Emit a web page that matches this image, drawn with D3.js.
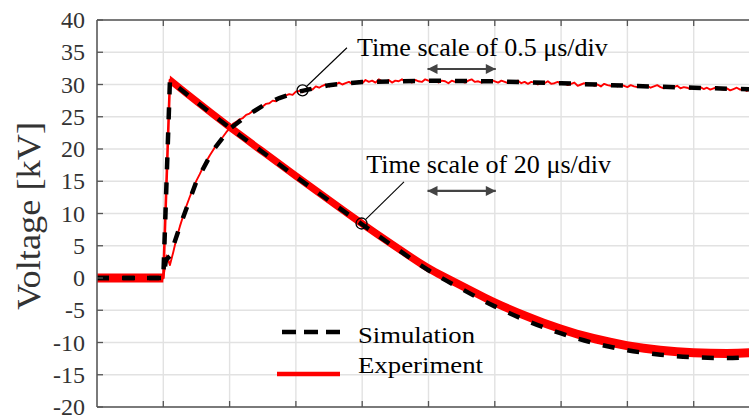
<!DOCTYPE html>
<html>
<head>
<meta charset="utf-8">
<script src="https://cdn.jsdelivr.net/npm/d3@7/dist/d3.min.js"></script>
<style>
  html, body { margin: 0; padding: 0; background: #fff; }
  svg { display: block; }
</style>
</head>
<body>
<svg id="chart" width="749" height="416"></svg>
<script>
// Horizontal axis is in oscilloscope divisions (no labels), vertical in kV.
const divisionTicks = [0, 1, 2, 3, 4, 5, 6, 7, 8, 9, 10];
const voltageTicks = [-20, -15, -10, -5, 0, 5, 10, 15, 20, 25, 30, 35, 40];

// Full impulse, 20 us/div (index 2 is the crest)
const impulseT   = [0, 1.0, 1.1, 1.5, 2, 2.5, 3, 3.5, 4, 4.5, 5, 5.5, 6, 6.5, 7, 7.5, 8, 8.5, 9, 9.5, 10];
const impulseExp = [0, 0, 30.7, 27.4, 23.4, 19.6, 15.8, 12.1, 8.4, 4.9, 1.5, -1.2, -3.8, -6.0, -7.9, -9.4, -10.5, -11.2, -11.6, -11.7, -11.5];
const impulseSim = [0, 0, 30.6, 27.3, 23.3, 19.5, 15.7, 12.0, 8.3, 4.7, 1.2, -1.7, -4.4, -6.7, -8.6, -10.1, -11.2, -11.9, -12.3, -12.4, -12.2];
const crestIndex = 2;

// Wave front, 0.5 us/div (simulation)
const frontSimT = [0, 1.0, 1.04, 1.1, 1.25, 1.5, 1.75, 2.0, 2.25, 2.5, 2.75, 3.0, 3.5, 4, 5, 6, 7, 8, 9, 10];
const frontSim  = [0, 0, 2.8, 3.4, 8.0, 15.0, 19.8, 23.1, 25.1, 26.7, 27.9, 28.8, 29.9, 30.4, 30.6, 30.5, 30.2, 29.8, 29.5, 29.2];

// Wave front, 0.5 us/div (measured), sampled every 0.05 div from 1.0 div
const frontExpStart = 1.0;
const frontExpStep = 0.05;
const frontExp = [
  0, 3.5, 2.0, 4.0, 6.2, 8.0, 9.6, 11.2, 12.6, 13.9,
  15.1, 16.1, 17.2, 18.1, 19.0, 19.8, 20.6, 21.3, 21.9, 22.6,
  23.2, 23.9, 24.2, 24.6, 24.8, 25.3, 25.5, 25.9, 26.0, 26.5,
  26.6, 27.0, 27.1, 27.5, 27.4, 27.9, 28.0, 28.3, 28.5, 28.4,
  28.9, 29.0, 28.8, 29.3, 29.4, 29.2, 29.7, 29.5, 29.8, 30.0,
  29.7, 30.1, 30.0, 30.3, 30.0, 30.2, 30.4, 30.1, 30.3, 30.5,
  30.2,
  30.7, 30.4, 30.6, 30.3, 30.8, 30.5, 30.4, 30.7, 30.3, 30.6, 30.5, 30.8, 30.4, 30.6, 30.3, 30.7, 30.5, 30.4, 30.8, 30.6,
  30.4, 30.7, 30.3, 30.6, 30.5, 30.2, 30.6, 30.4, 30.7, 30.5, 30.3, 30.6, 30.8, 30.4, 30.5, 30.3, 30.6, 30.4, 30.7, 30.5,
  30.3, 30.6, 30.4, 30.2, 30.5, 30.3, 30.6, 30.2, 30.4, 30.1, 30.4, 30.3, 30.0, 30.3, 30.2, 30.5, 30.1, 30.2, 30.4, 30.1,
  30.2, 29.9, 30.1, 30.3, 29.8, 30.0, 30.2, 29.9, 30.1, 29.8, 30.0, 29.7, 30.1, 29.9, 29.8, 30.0, 29.7, 29.9, 29.8, 29.6,
  29.9, 29.7, 29.6, 29.9, 29.7, 29.8, 29.5, 29.7, 29.9, 29.6, 29.4, 29.7, 29.5, 29.6, 29.8, 29.4, 29.6, 29.5, 29.3, 29.6,
  29.4, 29.6, 29.3, 29.5, 29.2, 29.4, 29.6, 29.3, 29.2, 29.4, 29.1, 29.3, 29.5, 29.2, 29.3, 29.0, 29.2, 29.4, 29.1, 29.3
];

// Annotated points [div, kV] and their captions
const notePoints = [[3.10, 29.1], [3.99, 8.45]];
const noteLabels = ["Time scale of 0.5 μs/div", "Time scale of 20 μs/div"];
const legendLabels = ["Simulation", "Experiment"];

const svg = d3.select("#chart");
const W = 749, H = 416;
const x = d3.scaleLinear().domain([0, 10]).range([97, 760]);
const y = d3.scaleLinear().domain([-20, 40]).range([407, 20]);

const serif = "'Liberation Serif', 'Times New Roman', serif";

// grid
const grid = svg.append("g").attr("stroke", "#e2e2e2").attr("stroke-width", 1.4);
grid.selectAll("line.v").data(divisionTicks).join("line")
  .attr("x1", d => x(d)).attr("x2", d => x(d)).attr("y1", y(-20)).attr("y2", y(40));
grid.selectAll("line.h").data(voltageTicks).join("line")
  .attr("x1", x(0)).attr("x2", W).attr("y1", d => y(d)).attr("y2", d => y(d));

const zip = (ts, vs) => ts.map((t, i) => [t, vs[i]]);
const linear = d3.line().x(d => x(d[0])).y(d => y(d[1]));
const smooth = d3.line().x(d => x(d[0])).y(d => y(d[1])).curve(d3.curveMonotoneX);
// straight front up to the crest, smooth tail after it, as one continuous path
function impulsePath(pts) {
  const head = linear(pts.slice(0, crestIndex + 1));
  const tail = smooth(pts.slice(crestIndex)).replace(/^M/, "L");
  return head + tail;
}
function impulseBand(pts, half) {
  const upper = pts.map(d => [d[0], d[1] + half]);
  const lower = pts.map(d => [d[0], d[1] - half]).reverse();
  const up = impulsePath(upper);
  const lowHead = smooth(lower.slice(0, lower.length - crestIndex));
  const lowTail = linear(lower.slice(lower.length - crestIndex - 1)).replace(/^M/, "L");
  return up + lowHead.replace(/^M/, "L") + lowTail + "Z";
}

// measured impulse: noisy band around the trace
const impulseExpPts = zip(impulseT, impulseExp);
svg.append("path")
  .attr("fill", "#ff0000")
  .attr("d", impulseBand(impulseExpPts, 0.7));
svg.append("path")
  .attr("fill", "none").attr("stroke", "#ff0000").attr("stroke-width", 2.6)
  .attr("stroke-linejoin", "round")
  .attr("d", impulsePath(impulseExpPts));

// measured front
const frontExpPts = [[0, 0]].concat(frontExp.map((v, i) => [frontExpStart + i * frontExpStep, v]));
svg.append("path")
  .datum(frontExpPts)
  .attr("fill", "none").attr("stroke", "#ff0000").attr("stroke-width", 1.9)
  .attr("stroke-linejoin", "round")
  .attr("d", linear);

// simulations
svg.append("path")
  .attr("fill", "none").attr("stroke", "#000").attr("stroke-width", 4.5)
  .attr("stroke-dasharray", "12,13")
  .attr("d", impulsePath(zip(impulseT, impulseSim)));
svg.append("path")
  .datum(zip(frontSimT, frontSim))
  .attr("fill", "none").attr("stroke", "#000").attr("stroke-width", 4.5)
  .attr("stroke-dasharray", "12,14")
  .attr("d", linear);

// axes frame
const axisColor = "#555";
const axes = svg.append("g");
axes.append("line").attr("x1", x(0)).attr("x2", W).attr("y1", y(40)).attr("y2", y(40))
  .attr("stroke", axisColor).attr("stroke-width", 1.5);
axes.append("line").attr("x1", x(0)).attr("x2", W).attr("y1", y(-20)).attr("y2", y(-20))
  .attr("stroke", axisColor).attr("stroke-width", 1.5);
axes.append("line").attr("x1", x(0)).attr("x2", x(0)).attr("y1", y(40)).attr("y2", y(-20))
  .attr("stroke", axisColor).attr("stroke-width", 1.5);

const xTicks = divisionTicks.slice(1);
axes.selectAll("line.tb").data(xTicks).join("line")
  .attr("x1", d => x(d)).attr("x2", d => x(d)).attr("y1", y(-20)).attr("y2", y(-20) - 6)
  .attr("stroke", axisColor).attr("stroke-width", 1.3);
axes.selectAll("line.tt").data(xTicks).join("line")
  .attr("x1", d => x(d)).attr("x2", d => x(d)).attr("y1", y(40)).attr("y2", y(40) + 6)
  .attr("stroke", axisColor).attr("stroke-width", 1.3);
axes.selectAll("line.tl").data(voltageTicks).join("line")
  .attr("x1", x(0)).attr("x2", x(0) + 6).attr("y1", d => y(d)).attr("y2", d => y(d))
  .attr("stroke", axisColor).attr("stroke-width", 1.3);

axes.selectAll("text.yl").data(voltageTicks).join("text")
  .attr("x", 85).attr("y", d => y(d)).attr("dy", "0.34em")
  .attr("text-anchor", "end")
  .attr("font-family", serif).attr("font-size", 24).attr("fill", "#333")
  .text(d => d);

svg.append("text")
  .attr("transform", `translate(40,${216}) rotate(-90)`)
  .attr("text-anchor", "middle")
  .attr("font-family", serif).attr("font-size", 33).attr("fill", "#333")
  .attr("textLength", 188).attr("lengthAdjust", "spacingAndGlyphs")
  .text("Voltage [kV]");

// annotations
const notes = svg.append("g");
const leadEnds = [[x(3.77), y(35.7)], [x(4.63), y(14.9)]];
const textAnchors = [[x(3.92), y(34.4), 251], [x(4.06), y(16.3), 245]];
const arrowRows = [32.4, 13.5];
const r = 5.5;

const defs = svg.append("defs");
["arrowEnd", "arrowStart"].forEach((id, k) => {
  defs.append("marker")
    .attr("id", id).attr("markerUnits", "userSpaceOnUse")
    .attr("viewBox", "0 0 10 10").attr("refX", k === 0 ? 10 : 0).attr("refY", 5)
    .attr("markerWidth", 11).attr("markerHeight", 10).attr("orient", "auto")
    .append("path")
    .attr("d", k === 0 ? "M0,0 L10,5 L0,10 Z" : "M10,0 L0,5 L10,10 Z")
    .attr("fill", "#444");
});

notePoints.forEach((p, i) => {
  const cx = x(p[0]), cy = y(p[1]);
  notes.append("circle").attr("cx", cx).attr("cy", cy).attr("r", r)
    .attr("fill", "none").attr("stroke", "#000").attr("stroke-width", 1.3);
  const [ex, ey] = leadEnds[i];
  const len = Math.hypot(ex - cx, ey - cy);
  notes.append("line")
    .attr("x1", cx + (ex - cx) / len * r).attr("y1", cy + (ey - cy) / len * r)
    .attr("x2", ex).attr("y2", ey)
    .attr("stroke", "#000").attr("stroke-width", 1.1);
  const [tx, ty, tl] = textAnchors[i];
  notes.append("text").attr("x", tx).attr("y", ty)
    .attr("font-family", serif).attr("font-size", 25).attr("fill", "#000")
    .attr("textLength", tl).attr("lengthAdjust", "spacingAndGlyphs")
    .text(noteLabels[i]);
  notes.append("line")
    .attr("x1", x(5) - 1).attr("x2", x(6) + 1)
    .attr("y1", y(arrowRows[i])).attr("y2", y(arrowRows[i]))
    .attr("stroke", "#444").attr("stroke-width", 2.2)
    .attr("marker-start", "url(#arrowStart)").attr("marker-end", "url(#arrowEnd)");
});

// legend
const legend = svg.append("g");
legend.append("line").attr("x1", 282).attr("x2", 340).attr("y1", 332).attr("y2", 332)
  .attr("stroke", "#000").attr("stroke-width", 4.5).attr("stroke-dasharray", "14,8");
legend.append("line").attr("x1", 277).attr("x2", 340).attr("y1", 374).attr("y2", 374)
  .attr("stroke", "#ff0000").attr("stroke-width", 4.5);
legend.append("text").attr("x", 358).attr("y", 343)
  .attr("font-family", serif).attr("font-size", 24).attr("fill", "#000")
  .attr("textLength", 117).attr("lengthAdjust", "spacingAndGlyphs")
  .text(legendLabels[0]);
legend.append("text").attr("x", 358).attr("y", 373)
  .attr("font-family", serif).attr("font-size", 24).attr("fill", "#000")
  .attr("textLength", 125).attr("lengthAdjust", "spacingAndGlyphs")
  .text(legendLabels[1]);
</script>
</body>
</html>
